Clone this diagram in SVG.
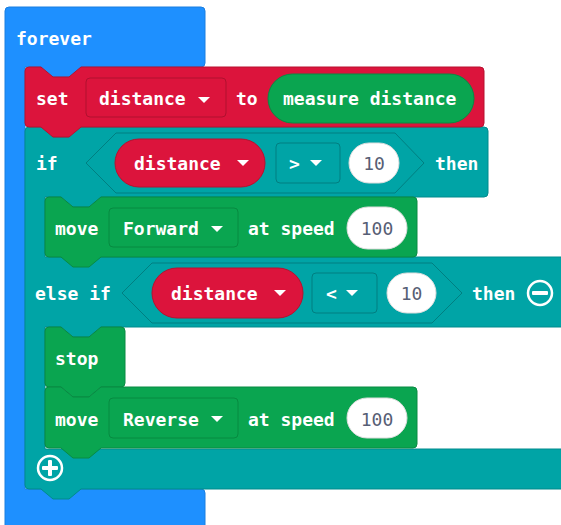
<svg xmlns="http://www.w3.org/2000/svg" width="561" height="525" viewBox="0 0 561 525">
  <style>
    .t { font-family: "DejaVu Sans Mono", "Liberation Mono", monospace; font-size: 18px; font-weight: bold; fill: #ffffff; }
    .num { font-family: "DejaVu Sans Mono", "Liberation Mono", monospace; font-size: 18px; fill: #575E75; text-anchor: middle; }
    .loop { fill: #1E90FF; stroke: #1a7ee0; stroke-width: 1; }
    .var { fill: #DC143C; stroke: #b8102f; stroke-width: 1; }
    .logic { fill: #00A4A6; stroke: #008b8d; stroke-width: 1; }
    .motor { fill: #0AA550; stroke: #088a43; stroke-width: 1; }
    .dd-var { fill: #DC143C; stroke: #b0102f; stroke-width: 1; }
    .dd-logic { fill: #00A4A6; stroke: #007f81; stroke-width: 1; }
    .dd-motor { fill: #0AA550; stroke: #078a40; stroke-width: 1; }
    .pill { fill: #ffffff; stroke: #dddddd; stroke-width: 1; }
    .hex { fill: #00A4A6; stroke: #007f81; stroke-width: 1; }
    .tri { fill: #ffffff; }
    .icon { fill: none; stroke: #ffffff; stroke-width: 2.5; }
  </style>

  <!-- forever loop, with the statement tab at the top of its mouth -->
  <g id="forever">
    <path class="loop" d="M5,11 Q5,7 9,7 H201 Q205,7 205,11 V63 Q205,67 201,67 H81 l-12,10 h-16 l-12,-10 H25 V489 H201 Q205,489 205,493 V530 H5 Z"/>
    <text class="t" x="16" y="45">forever</text>
  </g>

  <!-- if / else if block, with tabs at the top of each mouth -->
  <g id="if-block">
    <path class="logic" d="M25,131 Q25,127 29,127 H41 l12,10 h16 l12,-10 H484 Q488,127 488,131 V193 Q488,197 484,197 H101 l-12,10 h-16 l-12,-10 H45 V257 H565 V327 H101 l-12,10 h-16 l-12,-10 H45 V449 H565 V489 H81 l-12,10 h-16 l-12,-10 H29 Q25,489 25,485 Z"/>
    <text class="t" x="36" y="170">if</text>
    <polygon class="hex" points="86,163 116,133 395,133 424,163 395,193 116,193"/>
    <text class="t" x="435" y="170">then</text>
    <text class="t" x="35" y="300">else if</text>
    <polygon class="hex" points="122,293 152,263 432,263 462,293 432,323 152,323"/>
    <text class="t" x="472" y="300">then</text>
    <g id="remove-else-if">
      <circle class="icon" cx="540" cy="293" r="12"/>
      <rect x="532" y="291" width="16" height="4" rx="1" fill="#ffffff"/>
    </g>
    <g id="add-else">
      <circle class="icon" cx="50" cy="468" r="12"/>
      <rect x="42" y="466" width="16" height="4" rx="1" fill="#ffffff"/>
      <rect x="48" y="460" width="4" height="16" rx="1" fill="#ffffff"/>
    </g>
  </g>

  <!-- condition: distance > 10 -->
  <g id="cond-gt">
    <rect class="var" x="115" y="139" width="150" height="48" rx="24"/>
    <text class="t" x="134" y="170">distance</text>
    <polygon class="tri" points="237,160 249,160 243,166"/>
    <rect class="dd-logic" x="276" y="143" width="64" height="40" rx="4"/>
    <text class="t" x="289" y="170">&gt;</text>
    <polygon class="tri" points="310,160 322,160 316,166"/>
    <rect class="pill" x="349" y="143" width="50" height="40" rx="20"/>
    <text class="num" x="374" y="170">10</text>
  </g>

  <!-- condition: distance < 10 -->
  <g id="cond-lt">
    <rect class="var" x="152" y="268" width="151" height="50" rx="25"/>
    <text class="t" x="171" y="300">distance</text>
    <polygon class="tri" points="274,290 286,290 280,296"/>
    <rect class="dd-logic" x="312" y="273" width="65" height="40" rx="4"/>
    <text class="t" x="326" y="300">&lt;</text>
    <polygon class="tri" points="346,290 358,290 352,296"/>
    <rect class="pill" x="387" y="273" width="49" height="40" rx="20"/>
    <text class="num" x="411.5" y="300">10</text>
  </g>

  <!-- set distance to measure distance -->
  <g id="set-distance">
    <path class="var" d="M25,71 Q25,67 29,67 H41 l12,10 h16 l12,-10 H480 Q484,67 484,71 V123 Q484,127 480,127 H81 l-12,10 h-16 l-12,-10 H29 Q25,127 25,123 Z"/>
    <text class="t" x="36" y="105">set</text>
    <rect class="dd-var" x="86" y="78" width="140" height="39" rx="4"/>
    <text class="t" x="99" y="105">distance</text>
    <polygon class="tri" points="198,97 210,97 204,103"/>
    <text class="t" x="236" y="105">to</text>
    <rect class="motor" x="268" y="74" width="206" height="49" rx="24.5"/>
    <text class="t" x="283" y="105">measure distance</text>
  </g>

  <!-- move forward at speed 100 -->
  <g id="move-forward">
    <path class="motor" d="M45,201 Q45,197 49,197 H61 l12,10 h16 l12,-10 H413 Q417,197 417,201 V253 Q417,257 413,257 H101 l-12,10 h-16 l-12,-10 H49 Q45,257 45,253 Z"/>
    <text class="t" x="55" y="235">move</text>
    <rect class="dd-motor" x="109" y="208" width="129" height="39" rx="4"/>
    <text class="t" x="123" y="235">Forward</text>
    <polygon class="tri" points="211,226 223,226 217,232"/>
    <text class="t" x="248" y="235">at speed</text>
    <rect class="pill" x="347" y="207" width="60" height="42" rx="21"/>
    <text class="num" x="377" y="235">100</text>
  </g>

  <!-- stop -->
  <g id="stop">
    <path class="motor" d="M45,331 Q45,327 49,327 H61 l12,10 h16 l12,-10 H121 Q125,327 125,331 V383 Q125,387 121,387 H101 l-12,10 h-16 l-12,-10 H49 Q45,387 45,383 Z"/>
    <text class="t" x="55" y="365">stop</text>
  </g>

  <!-- move reverse at speed 100 -->
  <g id="move-reverse">
    <path class="motor" d="M45,391 Q45,387 49,387 H61 l12,10 h16 l12,-10 H413 Q417,387 417,391 V444 Q417,448 413,448 H101 l-12,10 h-16 l-12,-10 H49 Q45,448 45,444 Z"/>
    <text class="t" x="55" y="426">move</text>
    <rect class="dd-motor" x="109" y="398" width="129" height="40" rx="4"/>
    <text class="t" x="123" y="426">Reverse</text>
    <polygon class="tri" points="211,416 223,416 217,422"/>
    <text class="t" x="248" y="426">at speed</text>
    <rect class="pill" x="347" y="398" width="60" height="40" rx="20"/>
    <text class="num" x="377" y="426">100</text>
  </g>

  <g id="connectors"></g>
</svg>
